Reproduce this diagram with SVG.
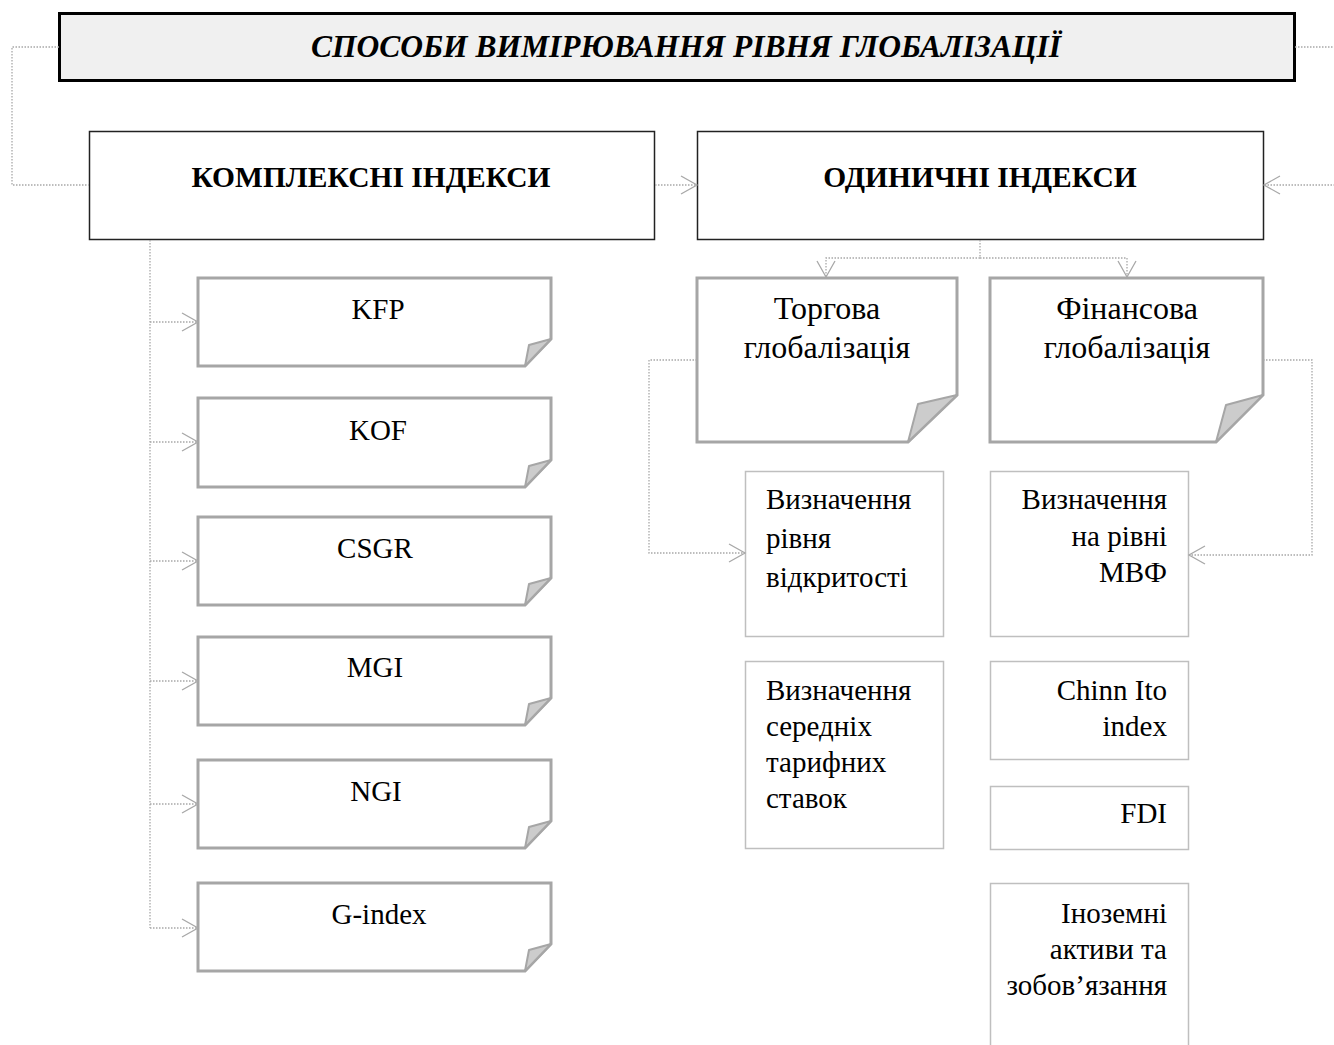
<svg xmlns="http://www.w3.org/2000/svg" width="1334" height="1045" viewBox="0 0 1334 1045">
<defs>
<style>
text{font-family:"Liberation Serif","Times New Roman",serif;fill:#000}
.t{font-size:29px}
.tb{font-size:32px}
.h{font-size:29.5px;font-weight:bold}
.ttl{font-size:31.5px;font-weight:bold;font-style:italic}
.main{fill:#fff;stroke:#222;stroke-width:1.5}
.fold{fill:#fff;stroke:#a6a6a6;stroke-width:3}
.flap{fill:#cccccc;stroke:#a6a6a6;stroke-width:2;stroke-linejoin:round}
.plain{fill:#fff;stroke:#bfbfbf;stroke-width:1.5}
.c{fill:none;stroke:#a8a8a8;stroke-width:1.3;stroke-dasharray:1.5 1.5}
.ca{fill:none;stroke:#a8a8a8;stroke-width:1.3;stroke-dasharray:1.5 1.5;marker-end:url(#arr)}
</style>
<marker id="arr" markerUnits="userSpaceOnUse" markerWidth="20" markerHeight="20" refX="16" refY="9" orient="auto" overflow="visible">
<path d="M0,0 L16,9 L0,18" fill="none" stroke="#a8a8a8" stroke-width="1.3" stroke-dasharray="none"/>
</marker>
</defs>

<g id="title">
<rect x="59.5" y="13.5" width="1235" height="67" fill="#f0f0f0" stroke="#000" stroke-width="3"/>
<text class="ttl" x="686" y="57" text-anchor="middle">СПОСОБИ ВИМІРЮВАННЯ РІВНЯ ГЛОБАЛІЗАЦІЇ</text>
</g>

<g id="complex">
<rect class="main" x="89.5" y="131.5" width="565" height="108"/>
<text class="h" x="371" y="187" text-anchor="middle">КОМПЛЕКСНІ ІНДЕКСИ</text>
</g>
<g id="single">
<rect class="main" x="697.5" y="131.5" width="566" height="108"/>
<text class="h" x="980" y="187" text-anchor="middle">ОДИНИЧНІ ІНДЕКСИ</text>
</g>

<g id="kfp">
<path class="fold" d="M198,278 H551 V339 L525,366 H198 Z"/>
<path class="flap" d="M525,366 L529,345 L551,339 Z"/>
<text class="t" x="378" y="319" text-anchor="middle">KFP</text>
</g>
<g id="kof">
<path class="fold" d="M198,398 H551 V460 L525,487 H198 Z"/>
<path class="flap" d="M525,487 L529,466 L551,460 Z"/>
<text class="t" x="378" y="440" text-anchor="middle">KOF</text>
</g>
<g id="csgr">
<path class="fold" d="M198,517 H551 V578 L525,605 H198 Z"/>
<path class="flap" d="M525,605 L529,584 L551,578 Z"/>
<text class="t" x="375" y="558" text-anchor="middle">CSGR</text>
</g>
<g id="mgi">
<path class="fold" d="M198,637 H551 V698 L525,725 H198 Z"/>
<path class="flap" d="M525,725 L529,704 L551,698 Z"/>
<text class="t" x="375" y="677" text-anchor="middle">MGI</text>
</g>
<g id="ngi">
<path class="fold" d="M198,760 H551 V821 L525,848 H198 Z"/>
<path class="flap" d="M525,848 L529,827 L551,821 Z"/>
<text class="t" x="376" y="801" text-anchor="middle">NGI</text>
</g>
<g id="gindex">
<path class="fold" d="M198,883 H551 V944 L525,971 H198 Z"/>
<path class="flap" d="M525,971 L529,950 L551,944 Z"/>
<text class="t" x="379" y="924" text-anchor="middle">G-index</text>
</g>

<g id="trade">
<path class="fold" d="M697,278 H957 V395 L908,442 H697 Z"/>
<path class="flap" d="M908,442 L918,404 L957,395 Z"/>
<text class="tb" x="827" y="319" text-anchor="middle">Торгова</text>
<text class="tb" x="827" y="358" text-anchor="middle">глобалізація</text>
</g>
<g id="finance">
<path class="fold" d="M990,278 H1263 V395 L1216,442 H990 Z"/>
<path class="flap" d="M1216,442 L1226,405 L1263,395 Z"/>
<text class="tb" x="1127" y="319" text-anchor="middle">Фінансова</text>
<text class="tb" x="1127" y="358" text-anchor="middle">глобалізація</text>
</g>

<g id="openness">
<rect class="plain" x="745.5" y="471.5" width="198" height="165"/>
<text class="t" x="766" y="509">Визначення</text>
<text class="t" x="766" y="548">рівня</text>
<text class="t" x="766" y="587">відкритості</text>
</g>
<g id="tariffs">
<rect class="plain" x="745.5" y="661.5" width="198" height="187"/>
<text class="t" x="766" y="700">Визначення</text>
<text class="t" x="766" y="736">середніх</text>
<text class="t" x="766" y="772">тарифних</text>
<text class="t" x="766" y="808">ставок</text>
</g>
<g id="imf">
<rect class="plain" x="990.5" y="471.5" width="198" height="165"/>
<text class="t" x="1167" y="509" text-anchor="end">Визначення</text>
<text class="t" x="1167" y="546" text-anchor="end">на рівні</text>
<text class="t" x="1167" y="582" text-anchor="end">МВФ</text>
</g>
<g id="chinnito">
<rect class="plain" x="990.5" y="661.5" width="198" height="98"/>
<text class="t" x="1167" y="700" text-anchor="end">Chinn Ito</text>
<text class="t" x="1167" y="736" text-anchor="end">index</text>
</g>
<g id="fdi">
<rect class="plain" x="990.5" y="786.5" width="198" height="63"/>
<text class="t" x="1167" y="823" text-anchor="end">FDI</text>
</g>
<g id="foreign">
<rect class="plain" x="990.5" y="883.5" width="198" height="180"/>
<text class="t" x="1167" y="923" text-anchor="end">Іноземні</text>
<text class="t" x="1167" y="959" text-anchor="end">активи та</text>
<text class="t" x="1167" y="995" text-anchor="end">зобов’язання</text>
</g>

<g id="connectors">
<path class="c" d="M59,47 H12 V185 H89"/>
<path class="ca" d="M1295,47 H1345 V185 H1264"/>
<path class="ca" d="M655,185 H697"/>
<path class="c" d="M980,240 V258"/>
<path class="ca" d="M980,258 H826 V277"/>
<path class="ca" d="M980,258 H1127 V277"/>
<path class="c" d="M150,240 V928"/>
<path class="ca" d="M150,322 H198"/>
<path class="ca" d="M150,442 H198"/>
<path class="ca" d="M150,561 H198"/>
<path class="ca" d="M150,681 H198"/>
<path class="ca" d="M150,804 H198"/>
<path class="ca" d="M150,928 H198"/>
<path class="ca" d="M697,360 H649 V553 H745"/>
<path class="ca" d="M1263,360 H1312 V555 H1189"/>
</g>
</svg>
